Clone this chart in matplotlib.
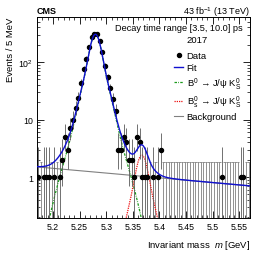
import matplotlib
matplotlib.use("Agg")
import matplotlib.pyplot as plt
import numpy as np
from matplotlib.lines import Line2D

plt.rcParams['font.family'] = ['Liberation Sans', 'DejaVu Sans']
plt.rcParams['mathtext.fontset'] = 'custom'
plt.rcParams['mathtext.rm'] = 'Liberation Sans'
plt.rcParams['mathtext.it'] = 'Liberation Sans:italic'
plt.rcParams['mathtext.bf'] = 'Liberation Sans:bold'

# data: events per 5 MeV bin, 5.17 - 5.57 GeV
bin_lo, bin_hi, bin_w = 5.17, 5.57, 0.005
counts = [1, 0, 1, 1, 1, 0, 1, 0, 1, 2,
          5, 3, 7, 10, 16, 24, 43, 75, 113, 184,
          270, 305, 305, 234, 147, 85, 54, 35, 23, 14,
          3, 3, 5, 4, 2, 2, 1, 5, 4, 1,
          1, 1, 0, 1, 0, 1, 3, 0, 0, 0,
          0, 0, 0, 0, 0, 0, 0, 0, 0, 0,
          0, 0, 0, 0, 0, 0, 0, 0, 0, 1,
          0, 0, 0, 0, 0, 0, 1, 1, 0, 0]

# fit model (per bin): three gaussians for B0, same shape for Bs, exponential background
mass_b0 = 5.2797
mass_bs = 5.3669
shape_amp = [200.0, 90.0, 12.0]
shape_sig = [0.008, 0.016, 0.030]
bs_scale = 0.008
bkg_norm, bkg_slope = 1.5, 1.9


def shape(m, mu):
    out = np.zeros_like(m)
    for a, s in zip(shape_amp, shape_sig):
        out += a * np.exp(-0.5 * ((m - mu) / s) ** 2)
    return out


def garwood(n):
    n = np.asarray(n, dtype=float)
    lo = np.where(n > 0, n * (1 - 1 / (9 * np.maximum(n, 1)) - 1 / (3 * np.sqrt(np.maximum(n, 1)))) ** 3, 0)
    hi = (n + 1) * (1 - 1 / (9 * (n + 1)) + 1 / (3 * np.sqrt(n + 1))) ** 3
    return lo, hi


counts = np.array(counts)
centers = bin_lo + bin_w * (np.arange(len(counts)) + 0.5)
lo, hi = garwood(counts)
ymin, ymax = 0.194, 605

fig = plt.figure(figsize=(2.66, 2.55), dpi=100)
ax = fig.add_axes([37/266, 1-219/255, (250-37)/266, (219-18)/255])

m = np.linspace(bin_lo, bin_hi, 800)
sig_b0 = shape(m, mass_b0)
sig_bs = bs_scale * shape(m, mass_bs)
bkg = bkg_norm * np.exp(-bkg_slope * (m - bin_lo))
total = sig_b0 + sig_bs + bkg

# zero bins
z = counts == 0
ax.vlines(centers[z], ymin * 0.5, hi[z], color='0.5', lw=0.6)
ax.hlines(hi[z], centers[z] - bin_w/2, centers[z] + bin_w/2, color='0.5', lw=0.6)

nz = ~z
ax.errorbar(centers[nz], counts[nz],
            yerr=[counts[nz] - lo[nz], hi[nz] - counts[nz]],
            xerr=bin_w/2, fmt='o', ms=2.9, color='black', ecolor='0.35',
            elinewidth=0.6, capsize=0, zorder=3)

green_ls = (0, (2, 1, 0.6, 1))
red_ls = (0, (1, 0.8))
ax.plot(m, bkg, color='0.5', lw=0.8, zorder=2)
ax.plot(m, sig_b0, color='#1a9a1a', lw=0.9, ls=green_ls, zorder=2)
ax.plot(m, sig_bs, color='#ee1111', lw=0.9, ls=red_ls, zorder=2)
ax.plot(m, total, color='#1010d0', lw=1.0, zorder=4)

ax.set_yscale('log')
ax.set_xlim(bin_lo, bin_hi)
ax.set_ylim(ymin, ymax)
ax.set_xticks([5.2, 5.25, 5.3, 5.35, 5.4, 5.45, 5.5, 5.55])
ax.set_xticklabels(['5.2', '5.25', '5.3', '5.35', '5.4', '5.45', '5.5', '5.55'])
ax.set_xticks(np.arange(5.17, 5.571, 0.01), minor=True)
ax.set_yticks([1, 10, 100])
ax.set_yticklabels(['1', '10', r'10$^2$'])
ax.tick_params(which='both', direction='in', top=True, right=True, labelsize=6.3, pad=3)
ax.tick_params(which='major', length=5, width=0.6)
ax.tick_params(which='minor', length=2.5, width=0.5)
for s in ax.spines.values():
    s.set_linewidth(0.7)

ax.set_xlabel(r'Invariant mass  $m$ [GeV]', fontsize=6.8, loc='right', labelpad=5)
ax.set_ylabel('Events / 5 MeV', fontsize=6.8, loc='top', labelpad=2)

fig.text(37/266, 1-12/255, 'CMS', fontsize=6.5, fontweight='bold', ha='left', va='center')
fig.text(250/266, 1-12/255, r'43 fb$^{-1}$ (13 TeV)', fontsize=6.5, ha='right', va='center')
ax.text(0.965, 0.95, 'Decay time range [3.5, 10.0] ps', transform=ax.transAxes,
        fontsize=6.6, ha='right', va='center')
ax.text(0.75, 0.886, '2017', transform=ax.transAxes, fontsize=6.8, ha='center', va='center')

handles = [
    Line2D([], [], marker='o', ms=2.9, color='black', ls='none'),
    Line2D([], [], color='#1010d0', lw=1.0),
    Line2D([], [], color='#1a9a1a', lw=0.9, ls=green_ls),
    Line2D([], [], color='#ee1111', lw=0.9, ls=red_ls),
    Line2D([], [], color='0.5', lw=0.8),
]
labels = ['Data', 'Fit',
          r'B$^0$ → J/ψ K$^0_\mathrm{S}$',
          r'B$^0_\mathrm{s}$ → J/ψ K$^0_\mathrm{S}$',
          'Background']
ax.legend(handles, labels, loc='upper left', bbox_to_anchor=(0.645, 0.83),
          frameon=False, fontsize=6.8, handlelength=0.9, handletextpad=0.4,
          labelspacing=0.3, borderpad=0, borderaxespad=0)

fig.savefig('out.png', dpi=100)
